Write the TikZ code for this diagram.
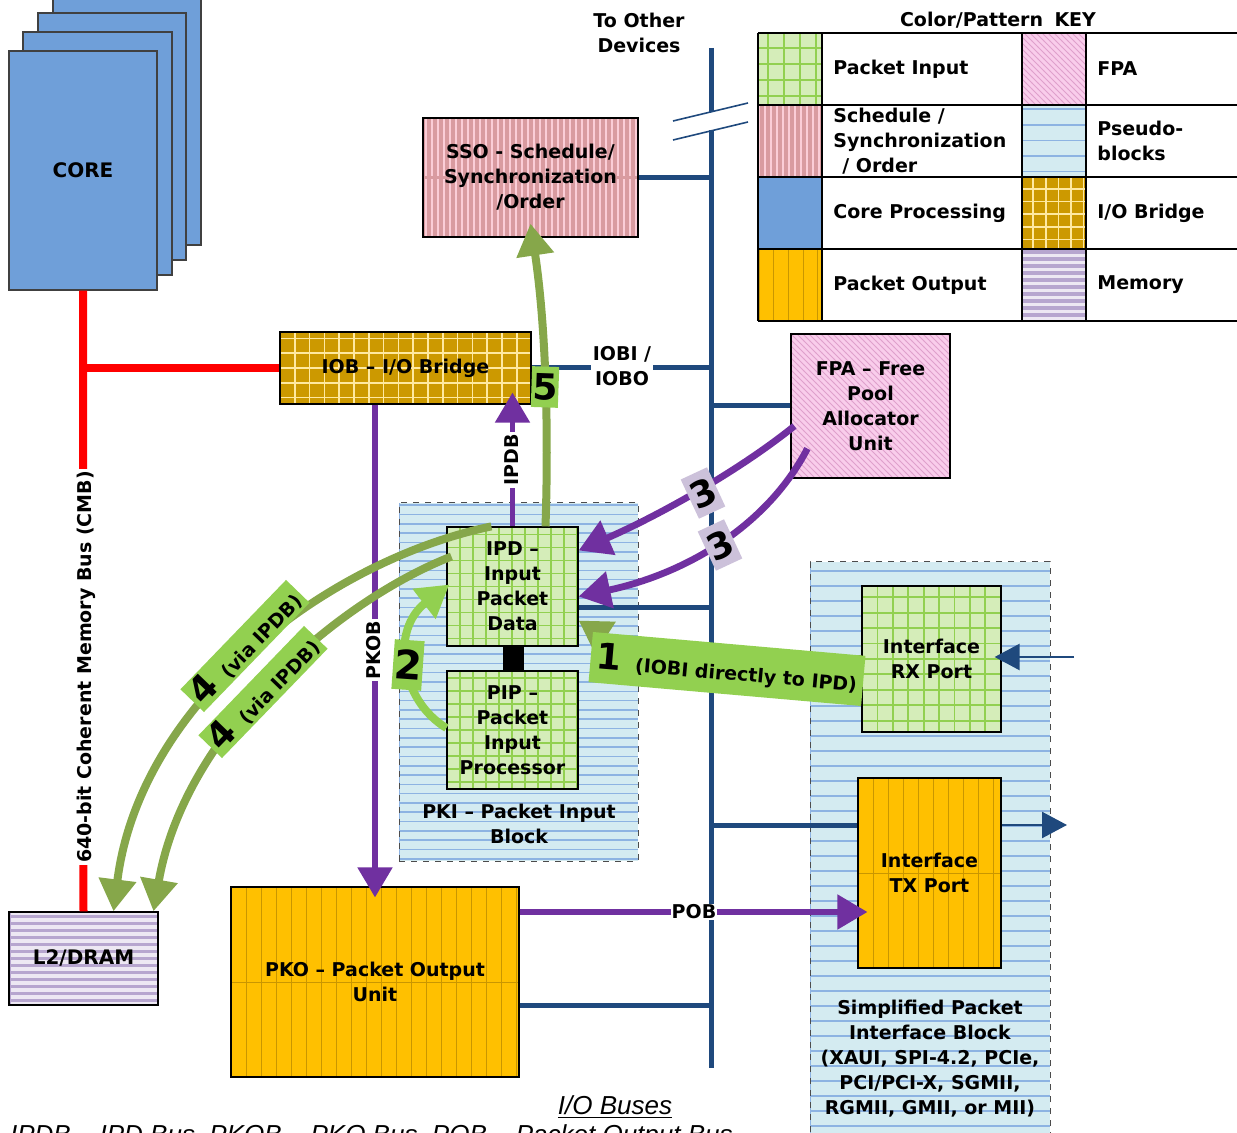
\documentclass[tikz,border=0pt]{standalone}
\usepackage{fontspec}
\setmainfont{DejaVu Sans}
\newfontfamily\capfont{Liberation Sans}
\usetikzlibrary{arrows.meta,patterns,calc,fit}
\definecolor{busblue}{HTML}{1F497D}
\definecolor{pur}{HTML}{7030A0}
\definecolor{olive}{HTML}{86A74A}
\definecolor{lgreen}{HTML}{92D050}
\definecolor{lav}{HTML}{CCC1DA}
\definecolor{pinbg}{HTML}{D5EDB9}
\definecolor{pingrid}{HTML}{92D050}
\definecolor{ssobg}{HTML}{FBCDD7}
\definecolor{ssostripe}{HTML}{D99BA0}
\definecolor{coreblue}{HTML}{6F9FD9}
\definecolor{gold}{HTML}{FFC000}
\definecolor{goldline}{HTML}{C99600}
\definecolor{iobbg}{HTML}{CC9900}
\definecolor{iobline}{HTML}{FFE9A0}
\definecolor{fpabg}{HTML}{F9CDEB}
\definecolor{fpaline}{HTML}{DFA0CC}
\definecolor{pseudobg}{HTML}{D4EBF1}
\definecolor{pseudoline}{HTML}{8DB3E2}
\definecolor{membg}{HTML}{EDE8F3}
\definecolor{memline}{HTML}{B7A6CF}
\tikzset{
  blk/.style={draw=black, line width=0.6pt, inner sep=0pt, align=center},
  pinput/.style={fill=pinbg, path picture={\draw[pingrid, solid, line width=0.9pt, step=#1] (path picture bounding box.south west) grid (path picture bounding box.north east);}},
  pinput/.default=6.5pt,
  ssofill/.style={fill=ssobg, path picture={\draw[ssostripe, solid, line width=1.6pt, xstep=3pt, ystep=8000pt] (path picture bounding box.south west) grid (path picture bounding box.north east);}},
  goldfill/.style={fill=gold, path picture={\draw[goldline, solid, line width=0.5pt, xstep=#1, ystep=8000pt] (path picture bounding box.south west) grid (path picture bounding box.north east);}},
  goldfill/.default=7.5pt,
  iobfill/.style={fill=iobbg, path picture={\draw[iobline, solid, line width=0.8pt, step=#1] (path picture bounding box.south west) grid (path picture bounding box.north east);}},
  iobfill/.default=7.4pt,
  memfill/.style={fill=membg, path picture={\draw[memline, solid, line width=1.6pt, xstep=8000pt, ystep=3.5pt] (path picture bounding box.south west) grid (path picture bounding box.north east);}},
  pseudo/.style={fill=pseudobg, path picture={\draw[pseudoline, solid, line width=0.8pt, xstep=8000pt, ystep=#1] (path picture bounding box.south west) grid (path picture bounding box.north east);}},
  pseudo/.default=4.65pt,
  fpafill/.style={preaction={fill=fpabg}, pattern=north west lines, pattern color=fpaline},
  corebox/.style={fill=coreblue, draw=black!75, line width=0.6pt},
  bus/.style={draw=busblue, line width=2.5pt},
  keyline/.style={draw=black, line width=0.6pt},
  olivearr/.style={draw=olive, line width=4pt, -{Triangle[length=16pt,width=18pt]}},
  greenarr/.style={draw=lgreen, line width=4pt, -{Triangle[length=16pt,width=18pt]}},
  purarr/.style={draw=pur, line width=2.6pt, -{Triangle[length=15pt,width=17pt]}},
  purcurve/.style={draw=pur, line width=3.4pt, -{Triangle[length=16pt,width=18pt]}},
  bluearr/.style={draw=busblue, line width=1.2pt, -{Triangle[length=12.5pt,width=13pt]}},
  busl/.style={fill=white, inner sep=1pt, align=center},
  bignum/.style={font=\fontsize{18}{18}\selectfont\bfseries},
  keytxt/.style={anchor=west, align=left, inner sep=0pt},
}
\begin{document}
\begin{tikzpicture}[x=0.5pt,y=-0.5pt,font=\fontsize{9.5}{12.5}\selectfont\bfseries]
\useasboundingbox (0,0) rectangle (1237,1133);

% pseudo blocks
\node[pseudo=4.65pt, draw=black!70, dashed, line width=0.5pt, fit={(399,503)(638,861)}, inner sep=0pt] (pki) {};
\node[align=center] (pkil) at (519,824) {PKI – Packet Input\\Block};
\node[pseudo=7.5pt, draw=black!70, dashed, line width=0.5pt, fit={(810,562)(1050,1150)}, inner sep=0pt] (spi) {};
\node[align=center] (spil) at (930,1059) {Simplified Packet\\Interface Block\\(XAUI, SPI-4.2, PCIe,\\PCI/PCI-X, SGMII,\\RGMII, GMII, or MII)};

% key
\node (keytitle) at (998,20) {Color/Pattern\hspace{0.6em}KEY};
\path[pinput=8pt] (758,33) rectangle (822,105);
\path[fpafill] (1022,33) rectangle (1086,105);
\path[ssofill] (758,105) rectangle (822,177);
\path[pseudo=7.8pt] (1022,105) rectangle (1086,177);
\path[fill=coreblue] (758,177) rectangle (822,249);
\path[iobfill=6.3pt] (1022,177) rectangle (1086,249);
\path[goldfill=7.3pt] (758,249) rectangle (822,321);
\path[memfill] (1022,249) rectangle (1086,321);
\foreach \yy in {33,105,177,249,321} \draw[keyline] (758,\yy) -- (1237,\yy);
\foreach \xx in {758,822,1022,1086} \draw[keyline] (\xx,33) -- (\xx,321);
\node[keytxt] (k1) at (833,69) {Packet Input};
\node[keytxt] (k2) at (833,141) {Schedule /\\Synchronization\\\hspace{4.5pt}/ Order};
\node[keytxt] (k3) at (833,213) {Core Processing};
\node[keytxt] (k4) at (833,285) {Packet Output};
\node[keytxt] (k5) at (1097,69) {FPA};
\node[keytxt] (k6) at (1097,141) {Pseudo-\\blocks};
\node[keytxt] (k7) at (1097,213) {I/O Bridge};
\node[keytxt] (k8) at (1097,285) {Memory};

% to other devices + bus
\node[align=center] (other) at (639,33) {To Other\\Devices};
\coordinate (busT) at (711,48);
\coordinate (busB) at (711,1068);
\coordinate (brkA) at (711,112);
\coordinate (brkB) at (711,130);
\draw[bus] (busT) -- (brkA);
\draw[bus] (brkB) -- (busB);
\draw[busblue, line width=0.8pt] (673,121) -- (748,103);
\draw[busblue, line width=0.8pt] (673,140) -- (748,122);

% core stack
\draw[corebox] (53,-5) rectangle (201,245);
\draw[corebox] (38,13) rectangle (186,260);
\draw[corebox] (23,32) rectangle (172,275);
\node[corebox, inner sep=0pt, fit={(9,51)(157,290)}] (core) {};
\node (corel) at (core.center) {\fontsize{10}{12}\selectfont CORE};

% boxes
\node[blk, ssofill, fit={(423,118)(638,237)}] (sso) {};
\node[align=center] (ssol) at (sso.center) {SSO - Schedule/\\Synchronization\\/Order};
\node[blk, iobfill, fit={(280,332)(531,404)}] (iob) {};
\node (iobl) at (iob.center) {IOB – I/O Bridge};
\node[blk, fpafill, fit={(791,334)(950,478)}] (fpa) {};
\node[align=center] (fpal) at (fpa.center) {FPA – Free\\Pool\\Allocator\\Unit};
\node[blk, pinput, fit={(447,527)(578,646)}] (ipd) {};
\node[align=center] (ipdl) at (ipd.center) {IPD –\\Input\\Packet\\Data};
\node[blk, pinput, fit={(447,671)(578,789)}] (pip) {};
\node[align=center] (pipl) at (pip.center) {PIP –\\Packet\\Input\\Processor};
\node[fill=black, inner sep=0pt, fit={(503,647)(524,671)}] (link) {};
\node[blk, pinput=7.7pt, fit={(862,586)(1001,732)}] (rx) {};
\node[align=center] (rxl) at (rx.center) {Interface\\RX Port};
\node[blk, goldfill, fit={(858,778)(1001,968)}] (tx) {};
\node[align=center] (txl) at (tx.center) {Interface\\TX Port};
\node[blk, goldfill, fit={(231,887)(519,1077)}] (pko) {};
\node[align=center] (pkol) at (pko.center) {PKO – Packet Output\\Unit};
\node[blk, memfill, fit={(9,912)(158,1005)}] (l2) {};
\node (l2l) at (l2.center) {\fontsize{10}{12}\selectfont L2/DRAM};

% bus taps
\draw[bus] (sso.east) -- (sso.east -| busT);
\draw[bus] (iob.east) -- (iob.east -| busT);
\node[busl] (iobil) at (622,366) {IOBI /\\IOBO};
\draw[bus] (fpa.west) -- (fpa.west -| busT);
\coordinate (ipdtap) at ($(ipd.east)+(0,21)$);
\draw[bus] (ipdtap) -- (ipdtap -| busT);
\coordinate (rxtap) at ($(rx.west)+(0,11)$);
\draw[bus] (rxtap -| busT) -- (rxtap);
\coordinate (txtap) at ($(tx.west)+(0,-48)$);
\draw[bus] (txtap -| busT) -- (txtap);
\coordinate (pkotap) at ($(pko.east)+(0,23)$);
\draw[bus] (pkotap) -- (pkotap -| busT);

% external arrows
\coordinate (rxin) at (1074,657);
\draw[bluearr] (rxin) -- ($(rx.east)+(-7,-2)$);
\coordinate (txo) at ($(tx.east)+(0,-48)$);
\coordinate (txout) at (1067,825);
\draw[bluearr] (txo) -- (txout);

% CMB
\draw[red, line width=4pt] (core.south) -- (l2.north);
\draw[red, line width=4pt] ($(core.south |- iob.west)+(-2,0)$) -- (iob.west);
\node[rotate=90, fill=white, inner sep=1pt] (cmbl) at (86,667) {640-bit Coherent Memory Bus (CMB)};

% purple buses
\draw[purarr] (iob.south -| pko.north) -- ($(pko.north)+(0,11)$);
\node[rotate=90, fill=white, inner sep=1pt] (pkobl) at (374,650) {PKOB};
\draw[purarr] (ipd.north) -- ($(iob.south -| ipd.north)+(0,-12)$);
\node[rotate=90, fill=white, inner sep=1pt] (ipdbl) at (512,460) {IPDB};
\coordinate (pobs) at ($(pko.east)+(0,-70)$);
\draw[purarr] (pobs) -- ($(pobs -| tx.west)+(10,0)$);
\node[fill=white, inner sep=0.5pt] (pobl) at (694,912) {POB};

% 3 : FPA -> IPD
\draw[purcurve] ($(fpa.west)+(4,20)$) .. controls (740,470) and (660,515) .. ($(ipd.east)+(0,-36)$);
\draw[purcurve] ($(fpa.south west)+(17,-30)$) .. controls (765,530) and (680,575) .. ($(ipd.east)+(0,10)$);
\node[bignum, fill=lav, rotate=25, inner xsep=1pt, inner ysep=4pt] (n3a) at (703,493) {3};
\node[bignum, fill=lav, rotate=25, inner xsep=1pt, inner ysep=4pt] (n3b) at (720,545) {3};

% 5 : IPD -> SSO
\draw[olivearr] ($(ipd.north)+(33,0)$) .. controls (549,420) and (545,320) .. ($(sso.south)+(0,-14)$);
\node[bignum, fill=lgreen, rotate=-2, inner xsep=0.5pt, inner ysep=3.5pt] (n5) at (545,387) {5};

% 2 : PIP -> IPD
\draw[greenarr] ($(pip.west)+(0,-2)$) .. controls (400,700) and (390,630) .. ($(ipd.west)+(3,-2)$);
\node[font=\fontsize{20}{20}\selectfont\bfseries, fill=lgreen, rotate=-4, inner xsep=0.5pt, inner ysep=5pt] (n2) at (408,665) {2};

% 4 : IPD -> L2
\draw[olivearr] ($(ipd.north west)+(45,0)$) .. controls (330,560) and (140,700) .. ($(l2.north)+(30,0)$);
\draw[olivearr] ($(ipd.west)+(5,-30)$) .. controls (340,600) and (185,730) .. ($(l2.north)+(70,0)$);
\node[fill=lgreen, rotate=46, inner xsep=2pt, inner ysep=1pt] (n4a) at (245,646) {{\fontsize{18}{18}\selectfont 4}\hspace{6pt}(via IPDB)};
\node[fill=lgreen, rotate=46, inner xsep=2pt, inner ysep=1pt] (n4b) at (263,692) {{\fontsize{18}{18}\selectfont 4}\hspace{6pt}(via IPDB)};

% 1 : RX -> IPD
\draw[olivearr] (rx.west) .. controls (750,665) and (640,660) .. ($(ipd.east)+(0,34)$);
\node[fill=lgreen, rotate=-5, inner xsep=3pt, inner ysep=5pt] (n1) at (727,669) {{\fontsize{18}{18}\selectfont 1}\hspace{7pt}(IOBI directly to IPD)};

% captions
\node[font=\capfont\mdseries\itshape\fontsize{13}{15}\selectfont, anchor=base] (iobus) at (615,1114) {\underline{I/O Buses}};
\node[font=\capfont\mdseries\itshape\fontsize{13}{15}\selectfont, anchor=base west] (buslegend) at (3,1143) {IPDB – IPD Bus, PKOB – PKO Bus, POB – Packet Output Bus};
\end{tikzpicture}
\end{document}
